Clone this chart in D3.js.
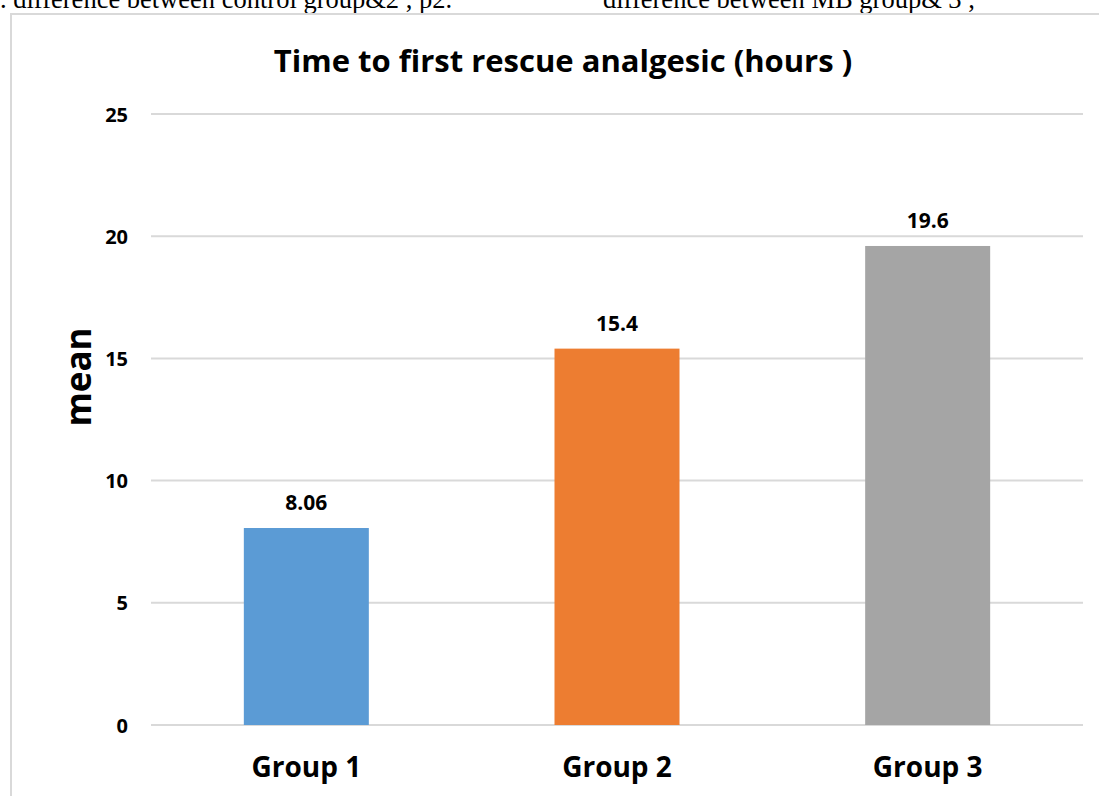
<!DOCTYPE html>
<html>
<head>
<meta charset="utf-8">
<script src="https://cdn.jsdelivr.net/npm/d3@7"></script>
<style>
  html, body { margin: 0; padding: 0; background: #fff; }
  svg { display: block; }
</style>
</head>
<body>
<svg id="chart" width="1099" height="796"></svg>
<script>
// Mean time to first rescue analgesic, per study group
const groups = ["Group 1", "Group 2", "Group 3"];
const means = [8.06, 15.4, 19.6];
const barColors = ["#5b9bd5", "#ed7d31", "#a5a5a5"];
const yTicks = [0, 5, 10, 15, 20, 25];
const title = "Time to first rescue analgesic (hours )";
const yTitle = "mean";
const noteLeft = ". difference between control group&2 , p2.";
const noteRight = "difference between MB group& 3 ,";

const svg = d3.select("#chart");
const font = "'Open Sans', 'Noto Sans', sans-serif";
const serif = "'Liberation Serif', 'Times New Roman', serif";

// Text from the page above the chart, partly cut off at the top edge
svg.append("text").attr("x", 0).attr("y", 8)
  .attr("font-family", serif).attr("font-size", 26.5).attr("fill", "#000").text(noteLeft);
svg.append("text").attr("x", 603).attr("y", 8)
  .attr("font-family", serif).attr("font-size", 26.5).attr("fill", "#000").text(noteRight);

// Chart area frame
svg.append("path")
  .attr("d", "M11,800 L11,14 L1104,14")
  .attr("fill", "none").attr("stroke", "#d9d9d9").attr("stroke-width", 2);

const plot = { left: 151, right: 1083, top: 114, bottom: 725 };

const x = d3.scaleBand().domain(groups).range([plot.left, plot.right])
  .paddingInner(0).paddingOuter(0);
const y = d3.scaleLinear().domain([0, 25]).range([plot.bottom, plot.top]);

// Horizontal gridlines
svg.append("g").selectAll("line").data(yTicks).join("line")
  .attr("x1", plot.left).attr("x2", plot.right)
  .attr("y1", d => y(d)).attr("y2", d => y(d))
  .attr("stroke", "#d9d9d9").attr("stroke-width", 2);

// Y axis tick labels
const yAxis = d3.axisLeft(y).tickValues(yTicks).tickSize(0).tickPadding(0);
const yg = svg.append("g").attr("transform", `translate(${plot.left - 23},0)`).call(yAxis);
yg.select(".domain").remove();
yg.selectAll("text")
  .attr("font-family", font).attr("font-weight", "bold")
  .attr("font-size", 20).attr("fill", "#000").attr("dy", "0.35em");

// X axis category labels
const xAxis = d3.axisBottom(x).tickSize(0).tickPadding(0);
const xg = svg.append("g").attr("transform", `translate(0,${plot.bottom})`).call(xAxis);
xg.select(".domain").remove();
xg.selectAll("text")
  .attr("font-family", font).attr("font-weight", "bold")
  .attr("font-size", 28).attr("fill", "#000")
  .attr("y", 52).attr("dy", 0);

// Bars
const barW = 125;
const data = groups.map((g, i) => ({ g, v: means[i], c: barColors[i] }));
svg.append("g").selectAll("rect").data(data).join("rect")
  .attr("x", d => x(d.g) + x.bandwidth() / 2 - barW / 2)
  .attr("width", barW)
  .attr("y", d => y(d.v))
  .attr("height", d => y(0) - y(d.v))
  .attr("fill", d => d.c);

// Value labels
svg.append("g").selectAll("text").data(data).join("text")
  .attr("x", d => x(d.g) + x.bandwidth() / 2)
  .attr("y", d => y(d.v) - 18)
  .attr("text-anchor", "middle")
  .attr("font-family", font).attr("font-weight", "bold")
  .attr("font-size", 21).attr("fill", "#000")
  .text(d => d.v);

// Chart title
svg.append("text").attr("x", 563).attr("y", 72)
  .attr("text-anchor", "middle")
  .attr("font-family", font).attr("font-weight", "bold")
  .attr("font-size", 31).attr("fill", "#000").text(title);

// Y axis title
svg.append("text")
  .attr("transform", "translate(91,377) rotate(-90)")
  .attr("text-anchor", "middle")
  .attr("font-family", font).attr("font-weight", "bold")
  .attr("font-size", 35).attr("fill", "#000").text(yTitle);
</script>
</body>
</html>
